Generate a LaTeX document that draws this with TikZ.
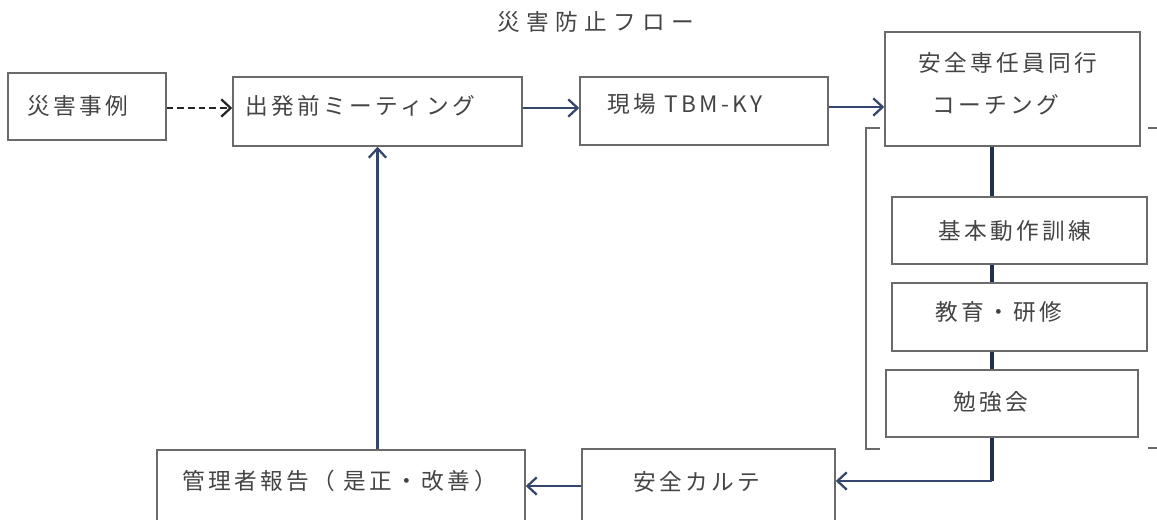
\documentclass[tikz,border=0pt]{standalone}
\usepackage{fontspec}
\newfontfamily\jp[LetterSpace=15]{Noto Sans CJK JP}
\newfontfamily\jpt[LetterSpace=28]{Noto Sans CJK JP}
\usetikzlibrary{arrows.meta,fit}
\definecolor{boxgray}{HTML}{6A6A6A}
\definecolor{txtgray}{HTML}{444444}
\definecolor{navy}{HTML}{34466E}
\definecolor{darknavy}{HTML}{1F3150}
\tikzset{
  box/.style={draw=boxgray, line width=1.1pt, inner sep=0pt, fill=white},
  lbl/.style={anchor=west, inner sep=0pt, text=txtgray, font=\jp\fontsize{17}{19}\selectfont},
  arr/.style={draw=navy, line width=1.8pt, -{Straight Barb[length=7pt,width=13pt,line width=1.7pt]}},
  dasharr/.style={draw=black!85, line width=1.6pt, dash pattern=on 5pt off 3pt, -{Straight Barb[length=7pt,width=13pt,line width=1.7pt]}},
  link/.style={draw=darknavy, line width=2.4pt},
  brk/.style={draw=boxgray, line width=1.1pt}
}
\begin{document}
\begin{tikzpicture}[x=0.75pt,y=-0.75pt]
\useasboundingbox (0,0) rectangle (1157,519);
\clip (0,0) rectangle (1157,519);
\fill[white] (0,0) rectangle (1157,519);

% title
\node[lbl, font=\jpt\fontsize{17}{20}\selectfont] (title) at (497,22) {災害防止フロー};

% boxes
\node[box, fit={(8,73) (166,140)}] (b1) {};
\node[box, fit={(233,77) (522,146)}] (b2) {};
\node[box, fit={(580,77) (828,145)}] (b3) {};
\node[box, fit={(885,32) (1140,146)}] (b4) {};
\node[box, fit={(892,197) (1147,264)}] (b5) {};
\node[box, fit={(892,283) (1147,351)}] (b6) {};
\node[box, fit={(886,370) (1138,437)}] (b7) {};
\node[box, fit={(582,449) (835,530)}] (b8) {};
\node[box, fit={(157,450) (525,530)}] (b9) {};

% texts
\node[lbl] (t1) at (27,106) {災害事例};
\node[lbl] (t2) at (245,106) {出発前ミーティング};
\node[lbl] (t3) at (607,104) {現場 TBM-KY};
\node[lbl] (t4a) at (918,63) {安全専任員同行};
\node[lbl] (t4b) at (932,105) {コーチング};
\node[lbl] (t5) at (938,231) {基本動作訓練};
\node[lbl] (t6) at (935,312) {教育・研修};
\node[lbl] (t7) at (953,402) {勉強会};
\node[lbl] (t8) at (633,482) {安全カルテ};
\node[lbl] (t9) at (182,481) {管理者報告（ 是正・改善）};

% helper coordinates
\coordinate (vx) at (992,300);
\coordinate (y1) at (0,108);
\coordinate (y2) at (0,107);
\coordinate (y3) at (0,481);
\coordinate (y4) at (0,486);

% bracket
\draw[brk] (880,128) -- (866,128) -- (866,449) -- (880,449);
\draw[brk] (1148,128) -- (1162,128) -- (1162,448) -- (1148,448);

% connectors
\draw[dasharr] (b1.east |- y1) -- (b2.west |- y1);
\draw[arr] (b2.east |- y1) -- (b3.west |- y1);
\draw[arr] (b3.east |- y2) -- (b4.west |- y2);
\draw[link] (vx |- b4.south) -- (vx |- b5.north);
\draw[link] (vx |- b5.south) -- (vx |- b6.north);
\draw[link] (vx |- b6.south) -- (vx |- b7.north);
\draw[link] (vx |- b7.south) -- (vx |- y3);
\draw[arr] (vx |- y3) -- (b8.east |- y3);
\draw[arr] (b8.west |- y4) -- (b9.east |- y4);
\draw[arr] (b2.south |- b9.north) -- (b2.south);
\end{tikzpicture}
\end{document}
